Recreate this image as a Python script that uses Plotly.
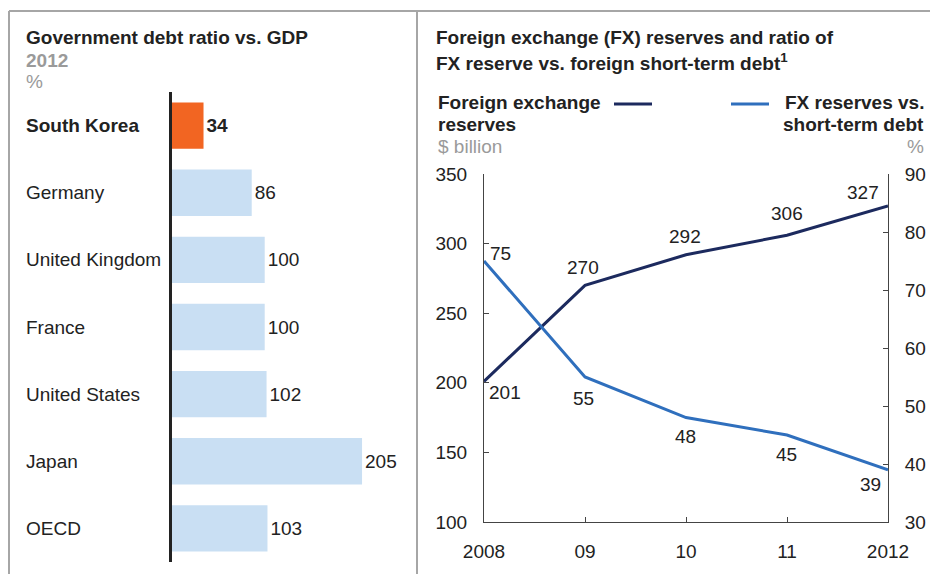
import plotly.graph_objects as go

# ---- data ----
countries = ["South Korea", "Germany", "United Kingdom", "France", "United States", "Japan", "OECD"]
debt_ratio = [34, 86, 100, 100, 102, 205, 103]

years = [2008, 2009, 2010, 2011, 2012]
year_labels = ["2008", "09", "10", "11", "2012"]
fx_reserves = [201, 270, 292, 306, 327]
fx_vs_debt = [75, 55, 48, 45, 39]

# label offsets (pixels, +y = down) relative to the data points
fx_label_shift = [(21, 11), (-2, -18), (-1, -18), (0, -22), (-25, -14)]
ratio_label_shift = [(17, -8), (-2, 21), (-1, 19), (-1, 19), (-18, 15)]

W, H = 930, 574
FONT = "Liberation Sans, Arial, sans-serif"
FS = 19
TXT = "#222222"
GREY = "#9a9a9a"
NAVY = "#1c2a5e"
BLUE = "#2f6fbd"
ORANGE = "#f26522"
LIGHT = "#c9dff3"

def px(x):
    return x / W

def py(y):
    return 1 - y / H

fig = go.Figure()

# ---- left: bar chart ----
bar_colors = [ORANGE] + [LIGHT] * (len(countries) - 1)
bar_text = [f"<b>{v}</b>" if c == "South Korea" else str(v) for c, v in zip(countries, debt_ratio)]
fig.add_trace(go.Bar(
    x=debt_ratio, y=countries, orientation="h",
    marker=dict(color=bar_colors, line=dict(width=0)),
    text=bar_text, textposition="outside",
    textfont=dict(family=FONT, size=FS, color=TXT),
    cliponaxis=False, xaxis="x", yaxis="y", showlegend=False,
))

# ---- right: dual-axis lines ----
fig.add_trace(go.Scatter(
    x=years, y=fx_reserves, mode="lines",
    line=dict(color=NAVY, width=3),
    cliponaxis=False, xaxis="x2", yaxis="y2", showlegend=False,
))
fig.add_trace(go.Scatter(
    x=years, y=fx_vs_debt, mode="lines",
    line=dict(color=BLUE, width=3),
    cliponaxis=False, xaxis="x2", yaxis="y3", showlegend=False,
))

axis_line = "#444444"

fig.update_layout(
    template="none",
    width=W, height=H,
    margin=dict(l=0, r=0, t=0, b=0, autoexpand=False),
    paper_bgcolor="white", plot_bgcolor="white",
    font=dict(family=FONT, size=FS, color=TXT),
    bargap=0.31,
    hovermode=False,
    xaxis=dict(domain=[px(172), px(410)], range=[0, 238 / 0.927], visible=False, fixedrange=True,
               automargin=False),
    yaxis=dict(domain=[py(562), py(92)], categoryorder="array", categoryarray=countries,
               autorange="reversed", showticklabels=False, ticks="", showgrid=False,
               zeroline=False, showline=True, linecolor="#222222", linewidth=3,
               anchor="x", automargin=False),
    xaxis2=dict(domain=[px(484), px(888)], range=[2008, 2012], tickvals=years, ticktext=year_labels,
                ticks="inside", ticklen=5, tickcolor=axis_line, showline=True, linecolor=axis_line,
                linewidth=1, showgrid=False, zeroline=False, anchor="y2", automargin=False,
                tickfont=dict(size=FS, color=TXT), ticklabelstandoff=12),
    yaxis2=dict(domain=[py(522), py(174)], range=[100, 350], tickvals=[100, 150, 200, 250, 300, 350],
                ticks="inside", ticklen=5, tickcolor=axis_line, showline=True, linecolor=axis_line,
                linewidth=1, showgrid=False, zeroline=False, anchor="x2", automargin=False,
                tickfont=dict(size=FS, color=TXT), ticklabelstandoff=12),
    yaxis3=dict(range=[30, 90], tickvals=[30, 40, 50, 60, 70, 80, 90], overlaying="y2", side="right",
                ticks="inside", ticklen=5, tickcolor=axis_line, showline=True, linecolor=axis_line,
                linewidth=1, showgrid=False, zeroline=False, anchor="x2", automargin=False,
                tickfont=dict(size=FS, color=TXT), ticklabelstandoff=12),
)

annotations = []

def note(x, y, text, size=FS, color=TXT, xanchor="left", yref="paper", yval=None):
    annotations.append(dict(
        x=px(x), y=py(y) if yval is None else yval, xref="paper", yref=yref,
        text=text, showarrow=False, xanchor=xanchor, yanchor="middle",
        font=dict(family=FONT, size=size, color=color),
    ))

# category labels
for c in countries:
    note(24, 0, f"<b>{c}</b>" if c == "South Korea" else c, yref="y", yval=c)

# data labels on the lines
for yr, v, (dx, dy) in zip(years, fx_reserves, fx_label_shift):
    annotations.append(dict(x=yr, y=v, xref="x2", yref="y2", text=str(v), showarrow=False,
                            xanchor="center", yanchor="middle", xshift=dx, yshift=-dy,
                            font=dict(family=FONT, size=FS, color=TXT)))
for yr, v, (dx, dy) in zip(years, fx_vs_debt, ratio_label_shift):
    annotations.append(dict(x=yr, y=v, xref="x2", yref="y3", text=str(v), showarrow=False,
                            xanchor="center", yanchor="middle", xshift=dx, yshift=-dy,
                            font=dict(family=FONT, size=FS, color=TXT)))

# left titles
note(24, 37, "<b>Government debt ratio vs. GDP</b>")
note(24, 60, "<b>2012</b>", color=GREY)
note(24, 82, "%", color=GREY)

# right titles
note(434, 37, "<b>Foreign exchange (FX) reserves and ratio of</b>")
note(434, 62, "<b>FX reserve vs. foreign short-term debt<sup>1</sup></b>")

# legend texts
note(436, 103, "<b>Foreign exchange</b>")
note(436, 125, "<b>reserves</b>")
note(436, 146, "$ billion", color=GREY)
note(926, 103, "<b>FX reserves vs.</b>", xanchor="right")
note(926, 125, "<b>short-term debt</b>", xanchor="right")
note(926, 146, "%", color=GREY, xanchor="right")

fig.update_layout(annotations=annotations)

shapes = [
    # frame
    dict(type="line", xref="paper", yref="paper", x0=px(9), x1=1, y0=py(11), y1=py(11),
         line=dict(color="#a6a6a6", width=2)),
    dict(type="line", xref="paper", yref="paper", x0=px(9), x1=px(9), y0=py(11), y1=0,
         line=dict(color="#a6a6a6", width=2)),
    dict(type="line", xref="paper", yref="paper", x0=px(417), x1=px(417), y0=py(11), y1=0,
         line=dict(color="#a6a6a6", width=2)),
    # legend line samples
    dict(type="line", xref="paper", yref="paper", x0=px(614), x1=px(652), y0=py(104), y1=py(104),
         line=dict(color=NAVY, width=3)),
    dict(type="line", xref="paper", yref="paper", x0=px(731), x1=px(769), y0=py(104), y1=py(104),
         line=dict(color=BLUE, width=3)),
]
fig.update_layout(shapes=shapes)

fig.write_html(
    "out.html",
    config={"displayModeBar": False, "staticPlot": True},
    post_script="document.body.style.margin='0';document.body.style.overflow='hidden';"
                "document.documentElement.style.overflow='hidden';",
)
